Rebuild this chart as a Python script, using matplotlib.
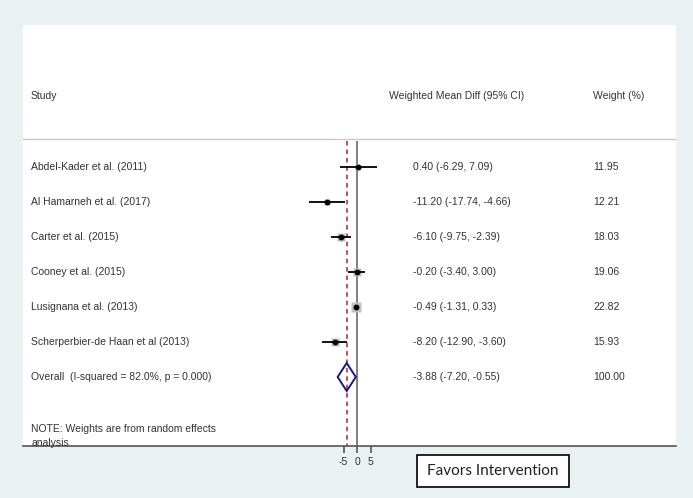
import numpy as np
import matplotlib
matplotlib.use("Agg")
import matplotlib.pyplot as plt
import matplotlib.transforms as mtransforms
from matplotlib.patches import Polygon, Rectangle

studies = ["Abdel-Kader et al. (2011)", "Al Hamarneh et al. (2017)", "Carter et al. (2015)",
           "Cooney et al. (2015)", "Lusignana et al. (2013)", "Scherperbier-de Haan et al (2013)"]
wmd = [0.40, -11.20, -6.10, -0.20, -0.49, -8.20]
ci_low = [-6.29, -17.74, -9.75, -3.40, -1.31, -12.90]
ci_high = [7.09, -4.66, -2.39, 3.00, 0.33, -3.60]
weights = [11.95, 12.21, 18.03, 19.06, 22.82, 15.93]

overall_label = "Overall  (I-squared = 82.0%, p = 0.000)"
overall_est = -3.88
overall_low = -7.20
overall_high = -0.55
overall_weight = 100.00

x_ticks = [-5, 0, 5]

W, H = 693, 498
bg = "#e9f1f3"
txt_col = "#333333"
font = ["Liberation Sans", "DejaVu Sans"]

fig = plt.figure(figsize=(W / 100, H / 100), dpi=100)
fig.patch.set_facecolor(bg)

# forest axes covers the white panel (pixels 23..676 x 25..446)
left, right, top, bottom = 23, 676, 25, 446
ax = fig.add_axes([left / W, 1 - bottom / H, (right - left) / W, (bottom - top) / H])
ax.set_facecolor("white")

# x scale: 0 at pixel 357.3, 2.73 px per unit
x0, ppu = 357.3, 2.73
ax.set_xlim((left - x0) / ppu, (right - x0) / ppu)
# rows: first at pixel 167, 35 px apart
r0, rs = 167, 35
ax.set_ylim((bottom - r0) / rs, (top - r0) / rs)

def row(py):
    return (py - r0) / rs

for s in ["left", "right", "top"]:
    ax.spines[s].set_visible(False)
ax.spines["bottom"].set_color("#555555")
ax.spines["bottom"].set_linewidth(1.2)
ax.set_yticks([])
ax.set_xticks(x_ticks)
ax.set_xticklabels([str(t) for t in x_ticks])
ax.tick_params(axis="x", direction="out", length=5, width=1.2, color="#555555",
               labelsize=7.5, labelcolor=txt_col, pad=3)
for lab in ax.get_xticklabels():
    lab.set_fontfamily(font)

ylo, yhi = row(141), row(bottom)
ax.vlines(0, ylo, yhi, color="#7f7f7f", lw=1.4, zorder=1)
ax.vlines(overall_est, ylo, yhi, color="#b0203a", lw=1.1, linestyles=(0, (3, 2.5)), zorder=1)

ax.axhline(row(139), color="#c8c8c8", lw=1.0)

ys = np.arange(len(studies))
for i in range(len(studies)):
    side = 1.9 * np.sqrt(weights[i])
    ax.plot(wmd[i], ys[i], marker="s", ms=side * 0.72, mfc="#c0c0c0", mec="none", zorder=2)
    ax.hlines(ys[i], ci_low[i], ci_high[i], color="black", lw=1.3, zorder=3)
    ax.plot(wmd[i], ys[i], marker="o", ms=3.2, color="black", zorder=4)

oy = len(studies)
dia = Polygon([[overall_low, oy], [overall_est, oy - 0.4], [overall_high, oy], [overall_est, oy + 0.4]],
              closed=True, fill=False, edgecolor="#1a1a80", lw=1.4, zorder=4)
ax.add_patch(dia)

# text columns
tr = mtransforms.blended_transform_factory(fig.transFigure, ax.transData)
fs = 7.5
kw = dict(transform=tr, fontsize=fs, color=txt_col, va="center", family=font, clip_on=False)
hy = row(96)
ax.text(31 / W, hy, "Study", **kw)
ax.text(389 / W, hy, "Weighted Mean Diff (95% CI)", **kw)
ax.text(593 / W, hy, "Weight (%)", **kw)

for i in range(len(studies)):
    ax.text(31 / W, ys[i], studies[i], **kw)
    ax.text(413 / W, ys[i], f"{wmd[i]:.2f} ({ci_low[i]:.2f}, {ci_high[i]:.2f})", **kw)
    ax.text(593 / W, ys[i], f"{weights[i]:.2f}", **kw)

ax.text(31 / W, oy, overall_label, **kw)
ax.text(413 / W, oy, f"{overall_est:.2f} ({overall_low:.2f}, {overall_high:.2f})", **kw)
ax.text(593 / W, oy, f"{overall_weight:.2f}", **kw)

ax.text(31 / W, row(429), "NOTE: Weights are from random effects", **kw)
ax.text(31 / W, row(443), "analysis", **kw)

# label box
fig.patches.append(Rectangle((417 / W, 1 - 487 / H), 152 / W, 32 / H, transform=fig.transFigure,
                             facecolor="white", edgecolor="black", lw=1.2))
fig.text(493 / W, 1 - 471 / H, "Favors Intervention", ha="center", va="center",
         fontsize=11, color="#222222", family=["Lato", "DejaVu Sans"])

fig.savefig("out.png", dpi=100, facecolor=bg)
